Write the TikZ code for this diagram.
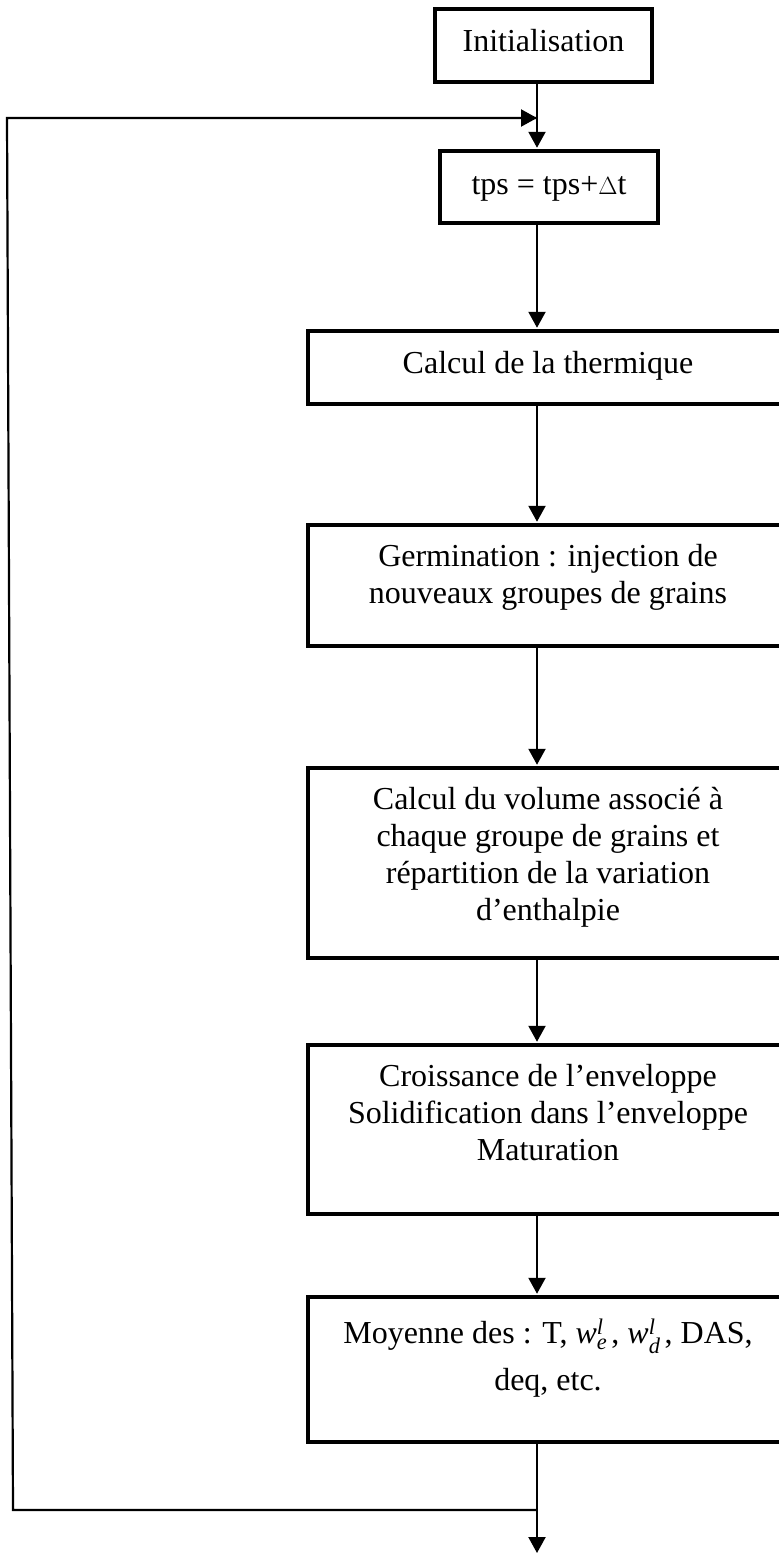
\documentclass[tikz,border=0pt]{standalone}
\usepackage{amsmath}
\usepackage{fontspec}
\setmainfont{Liberation Serif}
\usetikzlibrary{arrows.meta,fit,calc}
\tikzset{
  box/.style={draw, line width=3.5pt, inner sep=0pt, rectangle},
  lbl/.style={font=\fontsize{32}{36.8}\selectfont, align=center, inner sep=0pt, anchor=base},
  conn/.style={line width=2.2pt},
  arr/.style={conn, -{Triangle[length=16pt,width=17pt]}},
}
\newcommand{\wvar}[1]{$\textit{w}^{\textit{l}}_{\textit{#1}}\,$}
\begin{document}
\begin{tikzpicture}[x=1pt,y=-1pt]
\useasboundingbox (0,0) rectangle (779,1553);
\coordinate (ax) at (537,0);
% boxes
\node[box, fit={(435,9)(652,82)}] (init) {};
\node[box, fit={(440,151)(658,223)}] (tps) {};
\node[box, fit={(308,331)(790,404)}] (therm) {};
\node[box, fit={(308,525)(790,646)}] (germ) {};
\node[box, fit={(308,768)(790,958)}] (vol) {};
\node[box, fit={(308,1045)(790,1214)}] (crois) {};
\node[box, fit={(308,1297)(790,1442)}] (moy) {};
% texts (anchor base = baseline of last line)
\node[lbl] (tinit) at (543.5,51) {Initialisation};
\node[lbl] (ttps) at (549,194) {tps = tps+$\Delta$t};
\node[lbl] (ttherm) at (548,373) {Calcul de la thermique};
\node[lbl] (tgerm) at (548,603) {Germination : injection de\\nouveaux groupes de grains};
\node[lbl] (tvol) at (548,920) {Calcul du volume associé à\\chaque groupe de grains et\\répartition de la variation\\d’enthalpie};
\node[lbl] (tcrois) at (548,1160) {Croissance de l’enveloppe\\Solidification dans l’enveloppe\\Maturation};
\node[lbl] (tmoy) at (548,1390) {Moyenne des : T, \wvar{e}, \wvar{d}, DAS,\\[10pt]deq, etc.};
% connectors
\coordinate (j1) at (537,118);
\coordinate (j2) at (537,1510);
\coordinate (tl) at (7,118);
\coordinate (bl) at (13,1510);
\coordinate (endpt) at (537,1553);
\draw[arr, shorten >=1.5pt] (init.south -| ax) -- (tps.north -| ax);
\draw[arr, shorten >=1.5pt] (tps.south -| ax) -- (therm.north -| ax);
\draw[arr, shorten >=1.5pt] (therm.south -| ax) -- (germ.north -| ax);
\draw[arr, shorten >=1.5pt] (germ.south -| ax) -- (vol.north -| ax);
\draw[arr, shorten >=1.5pt] (vol.south -| ax) -- (crois.north -| ax);
\draw[arr, shorten >=1.5pt] (crois.south -| ax) -- (moy.north -| ax);
\draw[arr] (moy.south -| ax) -- (endpt);
\draw[conn, line join=miter] (j2) -- (bl) -- (tl) -- (j1);
\draw[arr] (tl) -- (j1);
\end{tikzpicture}
\end{document}
